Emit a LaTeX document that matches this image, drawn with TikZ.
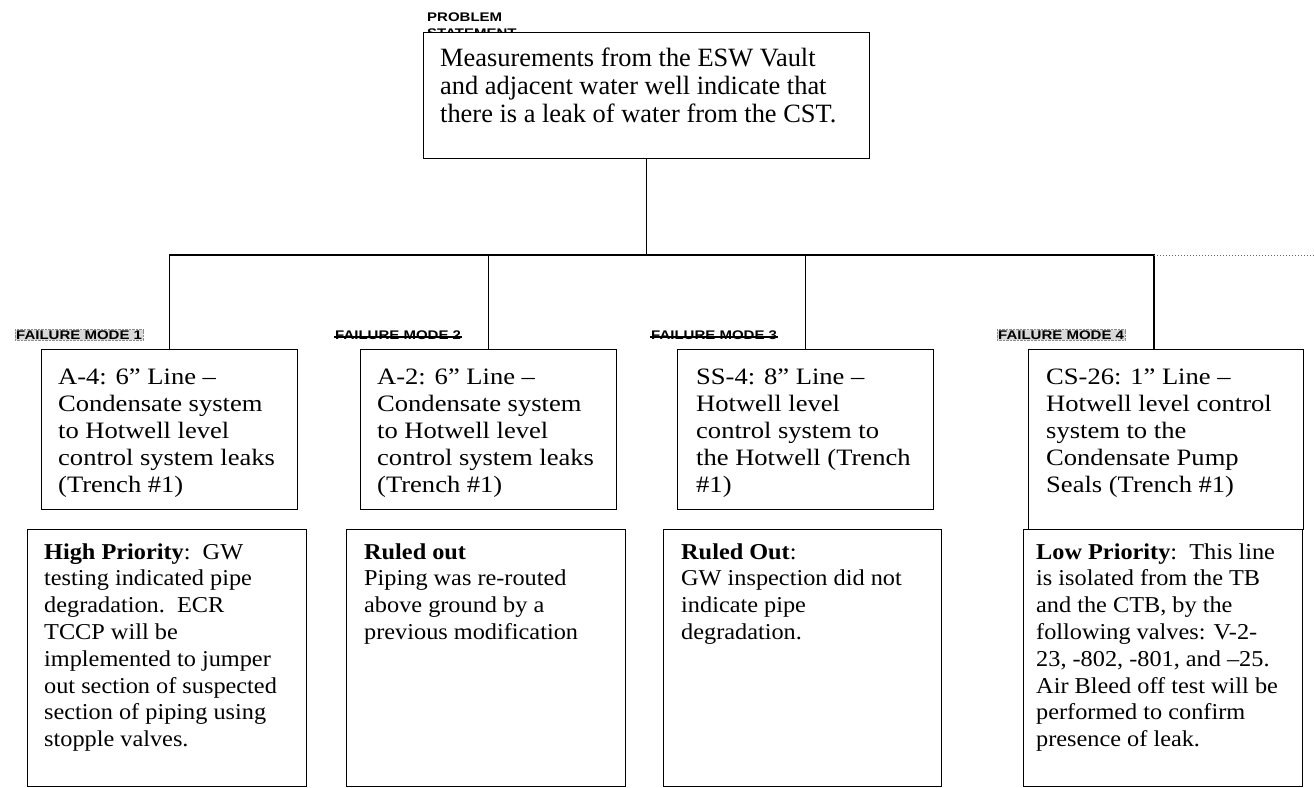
\documentclass[tikz,border=0pt]{standalone}
\usepackage{fontspec}
\setmainfont{Liberation Serif}
\newfontfamily\labfont[FakeStretch=1.2]{Liberation Sans}
\newfontfamily\upfont[FakeStretch=1.13]{Liberation Serif}
\newfontfamily\lowfont[FakeStretch=1.07]{Liberation Serif}
\usetikzlibrary{calc}
\newcommand{\txtlines}[1]{\vtop{\halign{##\hfil\cr#1\crcr}}}
\begin{document}
\begin{tikzpicture}[x=1pt,y=-1pt,
  box/.style={draw, line width=1.4pt, fill=white, anchor=north west, inner sep=0pt},
  uptxt/.style={anchor=base west, inner sep=0pt, font=\upfont\fontsize{23.5}{27}\selectfont},
  lowtxt/.style={anchor=base west, inner sep=0pt, font=\lowfont\fontsize{22.7}{26.8}\selectfont},
  toptxt/.style={anchor=base west, inner sep=0pt, font=\fontsize{26.4}{28}\selectfont},
  lab/.style={font=\labfont\bfseries\fontsize{12.5}{16}\selectfont, inner sep=1pt},
  hilite/.style={lab, fill=black!15, draw=black!45, densely dotted},
  strike/.style={line width=1.1pt},
  conn/.style={line width=1.3pt}]
\useasboundingbox (0,0) rectangle (1314,787);

% labels
\node[lab, anchor=north west, align=left] (ps) at (426,12) {PROBLEM\\STATEMENT};
\node[hilite, anchor=west] (fm1) at (15,335) {FAILURE MODE 1};
\node[lab, anchor=west] (fm2) at (334,335) {FAILURE MODE 2};
\node[lab, anchor=west] (fm3) at (650,335) {FAILURE MODE 3};
\node[hilite, anchor=west] (fm4) at (997,335) {FAILURE MODE 4};
\draw[strike] ($(fm2.west)+(0,2)$) -- ($(fm2.east)+(0,2)$);
\draw[strike] ($(fm3.west)+(0,2)$) -- ($(fm3.east)+(0,2)$);

% boxes
\node[box, minimum width=446pt, minimum height=126pt] (top) at (423,32) {};
\node[box, minimum width=256pt, minimum height=160pt] (u1) at (41,349) {};
\node[box, minimum width=256pt, minimum height=160pt] (u2) at (360,349) {};
\node[box, minimum width=256pt, minimum height=160pt] (u3) at (677,349) {};
\node[box, minimum width=275pt, minimum height=180pt] (u4) at (1028,349) {};
\node[box, minimum width=279pt, minimum height=257pt] (d1) at (27,529) {};
\node[box, minimum width=279pt, minimum height=257pt] (d2) at (346,529) {};
\node[box, minimum width=278pt, minimum height=257pt] (d3) at (663,529) {};
\node[box, minimum width=279pt, minimum height=257pt] (d4) at (1023,529) {};

% texts
\node[toptxt] (ttop) at ($(top.north west)+(17,34)$) {\txtlines{Measurements from the ESW Vault\cr
and adjacent water well indicate that\cr
there is a leak of water from the CST.}};
\node[uptxt] (tu1) at ($(u1.north west)+(17,35)$) {\txtlines{A-4: 6” Line –\cr
Condensate system\cr
to Hotwell level\cr
control system leaks\cr
(Trench \#1)}};
\node[uptxt] (tu2) at ($(u2.north west)+(17,35)$) {\txtlines{A-2: 6” Line –\cr
Condensate system\cr
to Hotwell level\cr
control system leaks\cr
(Trench \#1)}};
\node[uptxt] (tu3) at ($(u3.north west)+(19,35)$) {\txtlines{SS-4: 8” Line –\cr
Hotwell level\cr
control system to\cr
the Hotwell (Trench\cr
\#1)}};
\node[uptxt] (tu4) at ($(u4.north west)+(18,35)$) {\txtlines{CS-26: 1” Line –\cr
Hotwell level control\cr
system to the\cr
Condensate Pump\cr
Seals (Trench \#1)}};
\node[lowtxt] (td1) at ($(d1.north west)+(17,30)$) {\txtlines{\textbf{High Priority}:\ \ GW\cr
testing indicated pipe\cr
degradation.\ \ ECR\cr
TCCP will be\cr
implemented to jumper\cr
out section of suspected\cr
section of piping using\cr
stopple valves.}};
\node[lowtxt] (td2) at ($(d2.north west)+(18,30)$) {\txtlines{\textbf{Ruled out}\cr
Piping was re-routed\cr
above ground by a\cr
previous modification}};
\node[lowtxt] (td3) at ($(d3.north west)+(18,30)$) {\txtlines{\textbf{Ruled Out}:\cr
GW inspection did not\cr
indicate pipe\cr
degradation.}};
\node[lowtxt] (td4) at ($(d4.north west)+(13,30)$) {\txtlines{\textbf{Low Priority}:\ \ This line\cr
is isolated from the TB\cr
and the CTB, by the\cr
following valves: V-2-\cr
23, -802, -801, and –25.\cr
Air Bleed off test will be\cr
performed to confirm\cr
presence of leak.}};

% connectors
\coordinate (bus) at (0,255);
\coordinate (busend) at (1314,255);
\coordinate (u4in) at ($(u4.north west)+(126,0)$);
\draw[conn] (top.south) -- (top.south |- bus);
\draw[conn] (u1.north) -- (u1.north |- bus) -- (u4in |- bus) -- (u4in);
\draw[conn] (u2.north) -- (u2.north |- bus);
\draw[conn] (u3.north) -- (u3.north |- bus);
\draw[dotted, line width=1pt, black!60] (u4in |- bus) -- (busend);
\end{tikzpicture}
\end{document}
